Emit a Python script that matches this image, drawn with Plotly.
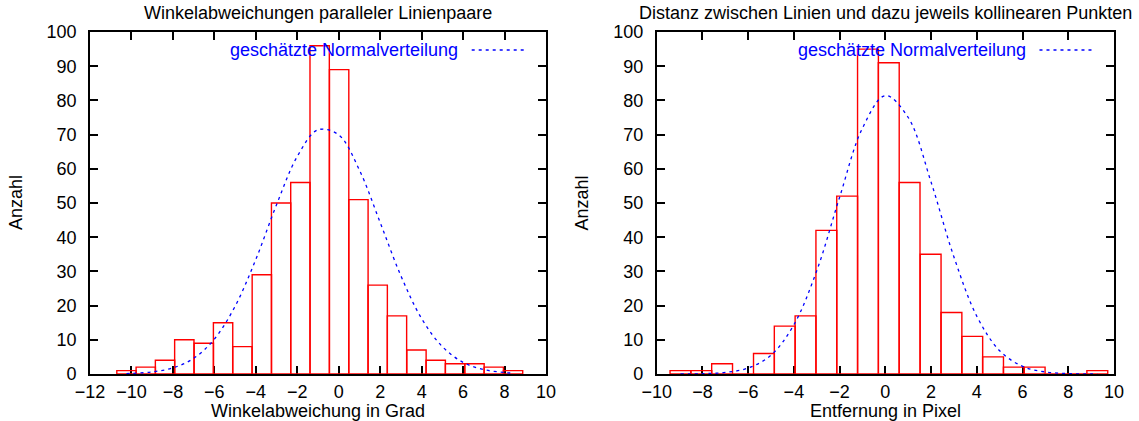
import plotly.graph_objects as go

# ---- data: left panel (angle deviations) ----
left_bin_centers = [-10.24, -9.31, -8.38, -7.45, -6.51, -5.58, -4.65, -3.71, -2.78, -1.85,
                    -0.92, 0.02, 0.95, 1.88, 2.81, 3.75, 4.68, 5.61, 6.55, 7.48, 8.41]
left_counts = [1, 2, 4, 10, 9, 15, 8, 29, 50, 56, 96, 89, 51, 26, 17, 7, 4, 3, 3, 2, 1]
left_bin_width = 0.933
left_curve_x = [-10.24, -10, -9, -8, -7, -6, -5, -4, -3, -2, -1, 0, 1, 2, 3, 4, 5, 6, 7, 8, 8.41]
left_curve_y = [0.13, 0.18, 0.61, 1.79, 4.57, 10.2, 19.8, 33.5, 49.5, 63.6, 71.4, 69.9,
                59.6, 44.3, 28.7, 16.2, 8.0, 3.4, 1.29, 0.42, 0.25]

# ---- data: right panel (distances) ----
right_bin_centers = [-8.96, -8.05, -7.14, -6.23, -5.31, -4.40, -3.49, -2.58, -1.67, -0.76,
                     0.15, 1.06, 1.98, 2.89, 3.80, 4.71, 5.62, 6.53, 7.45, 8.36, 9.27]
right_counts = [1, 1, 3, 0, 6, 14, 17, 42, 52, 95, 91, 56, 35, 18, 11, 5, 2, 2, 0, 0, 1]
right_bin_width = 0.912
right_curve_x = [-8.96, -8, -7, -6, -5, -4, -3, -2, -1, 0, 1, 2, 3, 4, 5, 6, 7, 8, 9, 9.27]
right_curve_y = [0.02, 0.09, 0.45, 1.75, 5.5, 14.4, 30.2, 51.7, 71.9, 81.4, 75.0, 56.1,
                 34.2, 16.9, 6.8, 2.23, 0.60, 0.13, 0.02, 0.01]

titles = ["Winkelabweichungen paralleler Linienpaare",
          "Distanz zwischen Linien und dazu jeweils kollinearen Punkten"]
x_titles = ["Winkelabweichung in Grad", "Entfernung in Pixel"]
y_title = "Anzahl"
legend_text = "geschätzte Normalverteilung"
left_xrange = [-12, 10]
right_xrange = [-10, 10]
y_range = [0, 100]

FONT = "Liberation Sans, Arial, Helvetica, sans-serif"
RED = "#ff0000"
BLUE = "#0000ff"

fig = go.Figure()

panels = [
    ("x", "y", left_bin_centers, left_counts, left_bin_width, left_curve_x, left_curve_y),
    ("x2", "y2", right_bin_centers, right_counts, right_bin_width, right_curve_x, right_curve_y),
]
for xa, ya, cx, cy, bw, lx, ly in panels:
    fig.add_trace(go.Bar(
        x=cx, y=cy, width=bw, xaxis=xa, yaxis=ya,
        marker=dict(color="rgba(0,0,0,0)", line=dict(color=RED, width=1.4)),
        cliponaxis=False, showlegend=False, hoverinfo="x+y",
    ))
    fig.add_trace(go.Scatter(
        x=lx, y=ly, xaxis=xa, yaxis=ya, mode="lines",
        line=dict(color=BLUE, width=1.3, dash="3px,4px", shape="spline", smoothing=1.0),
        showlegend=False, name=legend_text,
    ))

W, H = 1139, 421
ML, MR, MT, MB = 90, 25, 32, 47
pw = W - ML - MR
left_dom = [0, (546 - ML) / pw]
right_dom = [(656.7 - ML) / pw, 1]

axis_common = dict(
    showline=True, linecolor="black", linewidth=1.6, mirror="ticks",
    ticks="inside", ticklen=8, tickwidth=1.6, tickcolor="black",
    showgrid=False, zeroline=False,
    tickfont=dict(family=FONT, size=18, color="black"),
    layer="below traces",
)

fig.update_layout(
    width=W, height=H,
    margin=dict(l=ML, r=MR, t=MT, b=MB, autoexpand=False),
    paper_bgcolor="white", plot_bgcolor="white",
    font=dict(family=FONT, size=18, color="black"),
    barmode="overlay",
    xaxis=dict(domain=left_dom, range=left_xrange, dtick=2, anchor="y",
               ticklabelstandoff=1, **axis_common),
    yaxis=dict(domain=[0, 1], range=y_range, dtick=10, anchor="x",
               ticklabelstandoff=8, **axis_common),
    xaxis2=dict(domain=right_dom, range=right_xrange, dtick=2, anchor="y2",
                ticklabelstandoff=1, **axis_common),
    yaxis2=dict(domain=[0, 1], range=y_range, dtick=10, anchor="x2",
                ticklabelstandoff=8, **axis_common),
)

for i, (xa, ya) in enumerate([("x", "y"), ("x2", "y2")]):
    xd, yd = f"{xa} domain", f"{ya} domain"
    fig.add_annotation(text=titles[i], xref=xd, yref=yd,
                       x=0.5, y=1 + 19 / 342, xanchor="center", yanchor="middle",
                       showarrow=False, font=dict(family=FONT, size=18, color="black"))
    fig.add_annotation(text=x_titles[i], xref=xd, yref=yd,
                       x=0.5, y=-(411 - 374) / 342, xanchor="center", yanchor="middle",
                       showarrow=False, font=dict(family=FONT, size=18, color="black"))
    fig.add_annotation(text=y_title, xref=xd, yref=yd, textangle=-90,
                       x=-(90 - 16) / 456, y=0.5, xanchor="center", yanchor="middle",
                       showarrow=False, font=dict(family=FONT, size=18, color="black"))
    fig.add_annotation(text=legend_text, xref=xd, yref=yd,
                       x=(460 - 90) / 456, y=(374 - 50) / 342, xanchor="right", yanchor="middle",
                       showarrow=False, font=dict(family=FONT, size=18, color=BLUE))
    fig.add_shape(type="line", xref=xd, yref=yd,
                  x0=(471.7 - 90) / 456, x1=(525 - 90) / 456,
                  y0=(374 - 50) / 342, y1=(374 - 50) / 342,
                  line=dict(color=BLUE, width=1.3, dash="3px,4px"))

# remove the browser's default 8px body margin so the figure sits at (0, 0)
fig.write_html("out.html", config={"displayModeBar": False},
               post_script="document.body.style.margin='0';")
